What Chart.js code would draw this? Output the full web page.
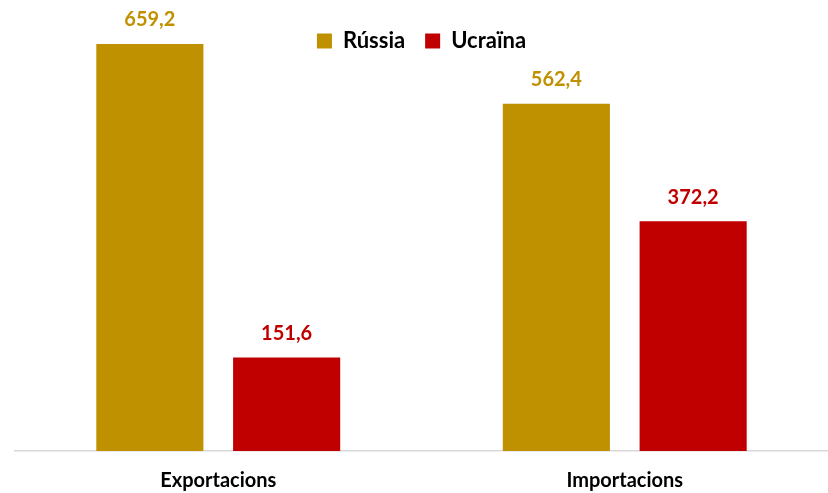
<!DOCTYPE html>
<html>
<head>
<meta charset="utf-8">
<script src="https://cdn.jsdelivr.net/npm/chart.js@4/dist/chart.umd.min.js"></script>
<style>
  html, body { margin: 0; padding: 0; background: #fff; }
  #wrap { width: 828px; height: 493px; }
</style>
</head>
<body>
<div id="wrap"><canvas id="chart" width="828" height="493"></canvas></div>
<script>
const categories = ['Exportacions', 'Importacions'];
const russiaValues = [659.2, 562.4];
const ukraineValues = [151.6, 372.2];
const seriesNames = ['Rússia', 'Ucraïna'];
const seriesColors = ['#BF9000', '#C00000'];

const fontFamily = 'Lato, "Open Sans", sans-serif';

function formatValue(value) {
  return value.toFixed(1).replace('.', ',');
}

// etiquetes de valor damunt de cada barra
const valueLabels = {
  id: 'valueLabels',
  afterDatasetsDraw(chart) {
    const ctx = chart.ctx;
    ctx.save();
    ctx.font = 'bold 20px ' + fontFamily;
    ctx.textAlign = 'center';
    ctx.textBaseline = 'middle';
    chart.data.datasets.forEach((dataset, i) => {
      const meta = chart.getDatasetMeta(i);
      meta.data.forEach((bar, j) => {
        ctx.fillStyle = dataset.backgroundColor;
        ctx.fillText(formatValue(dataset.data[j]), bar.x, bar.y - 24);
      });
    });
    ctx.restore();
  }
};

new Chart(document.getElementById('chart'), {
  type: 'bar',
  data: {
    labels: categories,
    datasets: [
      { label: seriesNames[0], data: russiaValues, backgroundColor: seriesColors[0], clip: false },
      { label: seriesNames[1], data: ukraineValues, backgroundColor: seriesColors[1], clip: false },
    ],
  },
  options: {
    responsive: false,
    animation: false,
    devicePixelRatio: 1,
    categoryPercentage: 0.673,
    barPercentage: 0.783,
    layout: { padding: { top: 10, left: 15, right: 0, bottom: -10 } },
    plugins: {
      legend: {
        position: 'top',
        labels: {
          font: { family: fontFamily, size: 22, weight: 'bold' },
          color: '#000',
          boxWidth: 15,
          boxHeight: 15,
          padding: 20,
        },
      },
      tooltip: { enabled: false },
    },
    scales: {
      x: {
        grid: { display: false },
        border: { display: true, color: '#D9D9D9', width: 1.5 },
        ticks: {
          font: { family: fontFamily, size: 20, weight: 'bold' },
          color: '#000',
          padding: 10,
        },
      },
      y: {
        display: false,
        min: 0,
        max: 630,
      },
    },
  },
  plugins: [valueLabels],
});
</script>
</body>
</html>
